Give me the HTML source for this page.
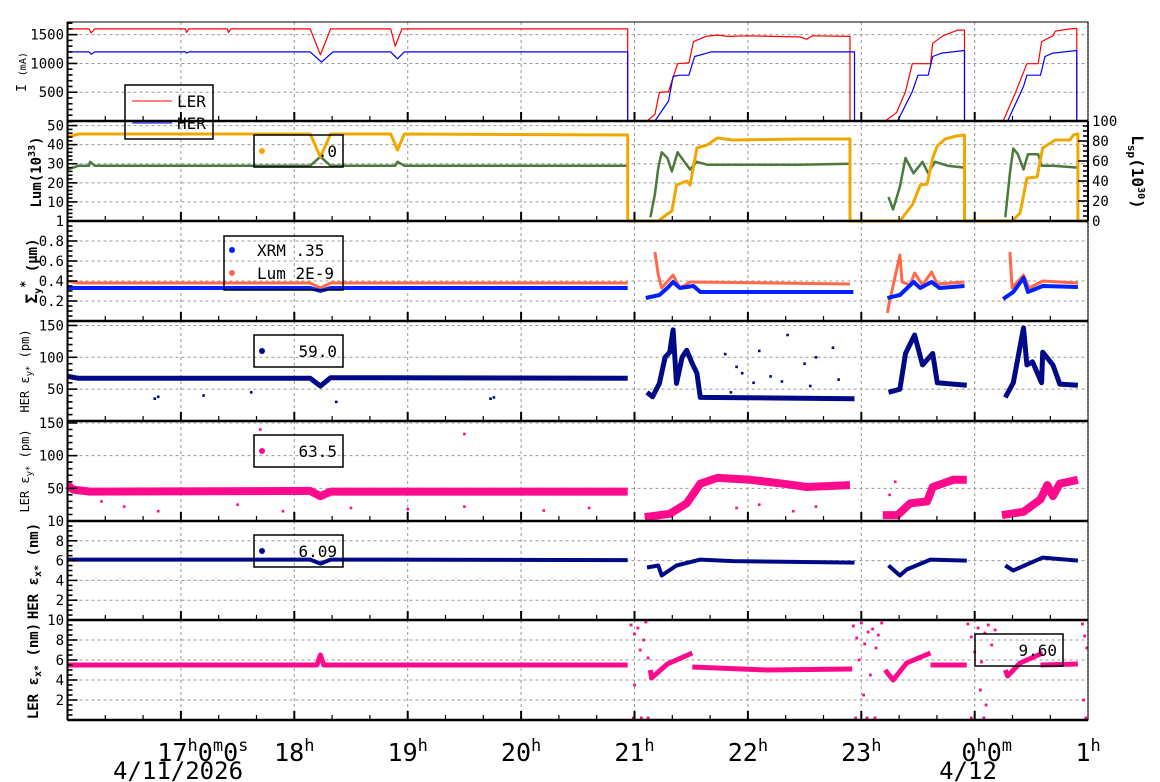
<!DOCTYPE html>
<html><head><meta charset="utf-8"><style>
body{margin:0;background:#fff}
svg{display:block;font-family:"DejaVu Sans Mono","Liberation Mono",monospace}
</style></head><body>
<svg id="chart" width="1160" height="782" viewBox="0 0 1160 782" xmlns="http://www.w3.org/2000/svg">
<rect width="1160" height="782" fill="#fff"/>
<g id="grid"></g><g id="data"></g><g id="axes"></g><g id="legends"></g>
</svg>
<script>
// ---- data (time in hours after 16:00 on 4/11) ----
const hourLabels = ["17","18","19","20","21","22","23","0","1"];
const lerCurrent = [[0,1600],[0.19,1600],[0.21,1530],[0.24,1600],[1.04,1600],[1.05,1540],[1.07,1600],[1.41,1600],[1.42,1540],[1.44,1600],[2.14,1600],[2.23,1150],[2.32,1600],[2.85,1600],[2.89,1300],[2.95,1600],[4.94,1600],[4.94,0],[5.11,0],[5.18,115],[5.22,495],[5.30,510],[5.38,995],[5.48,1010],[5.52,1380],[5.63,1470],[5.73,1495],[5.82,1470],[6.0,1480],[6.46,1460],[6.52,1420],[6.57,1480],[6.90,1470],[6.90,0],[7.21,0],[7.31,145],[7.39,510],[7.45,995],[7.61,995],[7.63,1350],[7.72,1480],[7.85,1580],[7.91,1580],[7.91,0],[8.25,0],[8.36,495],[8.46,995],[8.56,995],[8.59,1380],[8.69,1480],[8.71,1560],[8.84,1600],[8.90,1610],[8.90,0],[9.0,0]];
const herCurrent = [[0,1200],[0.19,1200],[0.21,1160],[0.24,1200],[1.04,1200],[1.05,1180],[1.07,1200],[2.14,1200],[2.24,1024],[2.34,1200],[2.85,1200],[2.91,1080],[2.97,1200],[4.94,1200],[4.94,0],[5.18,0],[5.30,345],[5.34,775],[5.40,795],[5.48,795],[5.53,1120],[5.64,1180],[5.67,1200],[6.94,1200],[6.94,0],[7.32,0],[7.45,510],[7.50,795],[7.59,795],[7.63,1120],[7.71,1180],[7.91,1225],[7.91,0],[8.29,0],[8.43,600],[8.46,795],[8.58,795],[8.62,1120],[8.69,1180],[8.90,1225],[8.90,0],[9.0,0]];
const lspValues = [[0,84],[0.1,87],[2.14,87],[2.23,64],[2.32,87],[2.85,87],[2.91,71],[2.97,87],[4.94,86],[4.94,0],[5.21,0],[5.29,7],[5.33,10],[5.37,36],[5.46,40],[5.49,36],[5.55,73],[5.64,76],[5.73,83],[5.87,81],[6.46,82],[6.90,82],[6.90,0],[7.34,0],[7.45,16],[7.52,36],[7.58,37],[7.63,63],[7.67,75],[7.74,82],[7.84,85],[7.91,86],[7.91,0],[8.33,0],[8.40,8],[8.46,43],[8.55,44],[8.60,73],[8.71,81],[8.84,81],[8.87,86],[8.91,87],[8.91,0],[9.0,0]];
const lumValues = [[0,27],[0.1,29],[0.19,29],[0.2,31],[0.24,29],[2.14,29],[2.23,33.7],[2.32,29],[2.89,29],[2.91,31],[2.97,29],[4.94,29],null,[5.14,2],[5.18,14],[5.21,28],[5.24,36],[5.29,33],[5.33,26],[5.38,36],[5.44,31],[5.49,27],[5.55,31],[5.64,29.5],[6.46,29.5],[6.90,30],null,[7.24,12.6],[7.28,6],[7.34,18],[7.39,33],[7.46,25],[7.54,31],[7.59,25],[7.65,31],[7.76,29],[7.91,28],null,[8.27,2],[8.31,25],[8.34,38],[8.38,35],[8.43,27],[8.47,35],[8.56,35],[8.59,29],[8.69,29],[8.91,28]];
const sigmaXrm = [[0,0.33],[2.14,0.33],[2.23,0.30],[2.32,0.33],[4.94,0.33],null,[5.10,0.23],[5.22,0.26],[5.29,0.33],[5.34,0.39],[5.40,0.33],[5.52,0.35],[5.58,0.29],[6.93,0.29],null,[7.23,0.23],[7.34,0.26],[7.46,0.39],[7.52,0.33],[7.62,0.39],[7.69,0.33],[7.91,0.35],null,[8.25,0.22],[8.34,0.29],[8.43,0.43],[8.47,0.29],[8.60,0.35],[8.91,0.34]];
const sigmaLum = [[0,0.40],[0.1,0.38],[2.14,0.38],[2.23,0.33],[2.32,0.38],[4.94,0.38],null,[5.18,0.69],[5.21,0.46],[5.24,0.33],[5.34,0.46],[5.40,0.33],[5.49,0.39],[6.90,0.37],null,[7.23,0.08],[7.25,0.2],[7.34,0.66],[7.36,0.39],[7.43,0.36],[7.47,0.48],[7.54,0.36],[7.62,0.49],[7.67,0.37],[7.91,0.39],null,[8.31,0.69],[8.33,0.33],[8.43,0.46],[8.48,0.33],[8.60,0.40],[8.91,0.38]];
const herEyValues = [[0,70],[0.1,67],[2.14,67],[2.23,55],[2.32,68],[4.94,67],null,[5.11,45],[5.16,38],[5.22,59],[5.27,100],[5.31,108],[5.34,143],[5.37,59],[5.42,100],[5.46,111],[5.51,90],[5.55,75],[5.58,37],[6.94,35],null,[7.24,45],[7.34,50],[7.39,106],[7.47,135],[7.54,88],[7.63,106],[7.67,60],[7.93,56],null,[8.27,37],[8.34,60],[8.43,146],[8.46,88],[8.51,93],[8.59,60],[8.60,108],[8.69,88],[8.75,58],[8.91,56]];
const herEyOutliers = [[0.77,35],[0.8,38],[1.2,40],[1.62,45],[2.37,30],[3.73,35],[3.76,37],[5.8,105],[5.9,85],[6.1,110],[6.2,70],[6.35,135],[6.5,90],[6.6,100],[6.75,115],[6.05,60],[6.3,62],[5.95,75],[6.55,55],[6.8,65],[5.85,45]];
const lerEyValues = [[0,55],[0.05,48],[0.2,45],[2.14,46],[2.23,38],[2.32,45],[4.94,45],null,[5.09,6],[5.31,11],[5.46,27],[5.58,57],[5.73,66],[6.02,63],[6.31,57],[6.52,52],[6.90,55],null,[7.19,9],[7.32,9],[7.43,27],[7.58,30],[7.63,52],[7.81,63],[7.93,63],null,[8.24,9],[8.43,14],[8.58,33],[8.64,55],[8.69,38],[8.75,57],[8.91,63]];
const lerEyOutliers = [[0.3,30],[0.5,22],[0.8,15],[1.5,25],[1.9,15],[2.5,20],[3.0,18],[3.5,22],[4.2,16],[4.6,20],[1.7,140],[3.5,133],[5.9,20],[6.1,25],[6.4,15],[6.6,22],[7.25,40],[7.3,60]];
const herExValues = [[0,6.1],[2.14,6.1],[2.23,5.7],[2.32,6.1],[4.94,6.05],null,[5.11,5.3],[5.21,5.5],[5.24,4.5],[5.37,5.5],[5.58,6.1],[5.87,5.95],[6.94,5.8],null,[7.24,5.5],[7.34,4.5],[7.40,5.1],[7.61,6.1],[7.93,6.0],null,[8.27,5.5],[8.34,5.0],[8.44,5.5],[8.60,6.3],[8.91,6.0]];
const lerExValues = [[0,5.5],[2.2,5.5],[2.23,6.5],[2.26,5.5],[4.94,5.5],null,[5.14,5.0],[5.15,4.2],[5.29,5.6],[5.51,6.7],null,[5.51,5.3],[6.17,5.0],[6.92,5.1],null,[7.21,5.0],[7.28,4.0],[7.40,5.7],[7.61,6.7],null,[7.61,5.5],[7.93,5.5],null,[8.27,5.0],[8.29,4.4],[8.40,5.7],[8.60,6.7],null,[8.58,5.5],[8.91,5.6]];
const lerExOutliers = [[4.97,9.5],[5.0,8.6],[5.03,9.2],[5.05,7.0],[5.08,8.0],[5.1,9.8],[5.12,6.2],[5.0,3.5],[4.99,0.2],[5.06,0.2],[5.12,0.2],[6.93,9.4],[6.96,8.2],[6.98,6.0],[7.0,9.7],[7.03,7.6],[7.06,8.8],[7.08,4.5],[7.1,9.1],[7.13,7.2],[7.15,8.5],[7.18,9.7],[7.02,2.5],[6.95,0.2],[7.05,0.2],[7.12,0.2],[7.94,9.6],[7.97,8.3],[8.0,6.8],[8.03,9.2],[8.06,5.8],[8.09,8.7],[8.12,9.5],[8.15,7.5],[8.18,9.0],[8.05,3.0],[8.1,1.5],[7.97,0.2],[8.08,0.2],[8.95,9.6],[8.97,8.4],[8.99,7.2],[8.96,2.0],[8.98,0.2]];

// ---- layout ----
const X0=67.5, PXH=113.4, XR=1088;
function xs(t){return X0+t*PXH;}
const panels=[
 {top:22,bot:121,min:0,max:1720,ticks:[500,1000,1500],labels:["500","1000","1500"],minor:100},
 {top:121,bot:221,min:0,max:52.4,ticks:[10,20,30,40,50],labels:["10","20","30","40","50"],minor:2,extraLabel:"1"},
 {top:221,bot:321,min:0,max:1.0,ticks:[0.2,0.4,0.6,0.8],labels:["0.2","0.4","0.6","0.8"],minor:0.05},
 {top:321,bot:421,min:0,max:157,ticks:[50,100,150],labels:["50","100","150"],minor:10},
 {top:421,bot:521,min:0,max:153,ticks:[50,100,150],labels:["50","100","150"],minor:10,extraLabel:"10"},
 {top:521,bot:620,min:0,max:10,ticks:[2,4,6,8],labels:["2","4","6","8"],minor:0.5,extraLabel:"10"},
 {top:620,bot:720,min:0,max:10,ticks:[2,4,6,8],labels:["2","4","6","8"],minor:0.5}
];
function ys(p,v,min,max){const P=panels[p];const a=min===undefined?P.min:min,b=max===undefined?P.max:max;return P.bot-(v-a)/(b-a)*(P.bot-P.top);}
const NS="http://www.w3.org/2000/svg";
function mk(tag,attrs,parent){const e=document.createElementNS(NS,tag);for(const k in attrs)e.setAttribute(k,attrs[k]);parent.appendChild(e);return e;}
const G=document.getElementById('grid'),D=document.getElementById('data'),A=document.getElementById('axes'),L=document.getElementById('legends');

// grid
panels.forEach((P,i)=>{
  for(let h=1;h<=8;h++){const g=mk('line',{x1:xs(h),x2:xs(h),y1:P.top,y2:P.bot,stroke:'#999','stroke-dasharray':'3,3','stroke-width':1},G);
  
  }
  P.ticks.forEach(v=>{const y=ys(i,v);if(y<=P.top+1)return;const g=mk('line',{x1:X0,x2:XR,y1:y,y2:y,stroke:'#999','stroke-dasharray':'3,3','stroke-width':1},G);
  
  });
});

function drawLine(p,data,color,w,name,min,max){
  let segs=[],cur=[];
  data.forEach(d=>{if(d===null){if(cur.length)segs.push(cur);cur=[];}else cur.push(xs(d[0]).toFixed(1)+','+ys(p,d[1],min,max).toFixed(1));});
  if(cur.length)segs.push(cur);
  segs.forEach(s=>{const e=mk('polyline',{points:s.join(' '),fill:'none',stroke:color,'stroke-width':w,'stroke-linejoin':'round'},D);
  
  });
}
function drawDots(p,data,color,r,name){
  data.forEach(d=>{const e=mk('rect',{x:xs(d[0])-r,y:ys(p,d[1])-r,width:2*r,height:2*r,fill:color},D);
  
  });
}
drawLine(0,lerCurrent,'#f00',1.2,'ler-current-line');
drawLine(0,herCurrent,'#00f',1.2,'her-current-line');
drawLine(1,lumValues,'#4a7a3c',2.5,'luminosity-line');
drawLine(1,lspValues,'#f0a800',3,'specific-luminosity-line',0,100);
drawLine(2,sigmaLum,'#ff6a4a',3,'sigma-lum-line');
drawLine(2,sigmaXrm,'#0020ff',4,'sigma-xrm-line');
drawLine(3,herEyValues,'#000a88',5,'her-eps-y-line');
drawDots(3,herEyOutliers,'#000a88',1.3,'her-eps-y-outlier');
drawLine(4,lerEyValues,'#ff0a8c',8,'ler-eps-y-line');
drawDots(4,lerEyOutliers,'#ff0a8c',1.3,'ler-eps-y-outlier');
drawLine(5,herExValues,'#000a88',4,'her-eps-x-line');
drawLine(6,lerExValues,'#ff0a8c',5,'ler-eps-x-line');
drawDots(6,lerExOutliers,'#ff0a8c',1.4,'ler-eps-x-outlier');

// axes
function txt(x,y,s,attrs,parent,name){const e=mk('text',Object.assign({x:x,y:y},attrs),parent||A);e.textContent=s;
 
 return e;}
panels.forEach((P,i)=>{
  const fr=mk('rect',{x:X0,y:P.top,width:XR-X0,height:P.bot-P.top,fill:'none',stroke:'#000','stroke-width':1},A);
  
  
  const bl=mk('line',{x1:X0,x2:XR,y1:P.bot,y2:P.bot,stroke:'#000','stroke-width':2.5},A);
  
  
  const ll=mk('line',{x1:X0,x2:X0,y1:P.top,y2:P.bot,stroke:'#000','stroke-width':2},A);
  
  
  for(let k=1;k<27;k++){const major=k%3===0;const x=xs(k/3);
    const t=mk('line',{x1:x,x2:x,y1:P.bot,y2:P.bot-(major?9:5),stroke:'#000','stroke-width':major?2:1.2},A);
    
    }
  for(let v=P.min+P.minor;v<P.max;v+=P.minor){const y=ys(i,v);
    const major=P.ticks.some(q=>Math.abs(q-v)<1e-6);
    const t=mk('line',{x1:X0,x2:X0+(major?10:5),y1:y,y2:y,stroke:'#000','stroke-width':1.6},A);
    
    }
  P.ticks.forEach((v,j)=>{txt(64,ys(i,v)+5,P.labels[j],{'font-size':14,'text-anchor':'end'});});
  if(P.extraLabel)txt(64,P.bot+5,P.extraLabel,{'font-size':14,'text-anchor':'end'});
});
// right axis Lsp
for(let v=5;v<100;v+=5){const y=ys(1,v,0,100);const major=v%20===0;
  const t=mk('line',{x1:XR,x2:XR-(major?10:5),y1:y,y2:y,stroke:'#000','stroke-width':1.6},A);
  
  }
["0","20","40","60","80","100"].forEach((s,j)=>txt(1092,ys(1,j*20,0,100)+5,s,{'font-size':14},A,'right-tick-label'));
const rl=mk('line',{x1:XR,x2:XR,y1:22,y2:720,stroke:'#000','stroke-width':1.2,'stroke-dasharray':'2,2'},A);


const rl2=mk('line',{x1:XR,x2:XR,y1:121,y2:221,stroke:'#000','stroke-width':2},A);



// x labels
hourLabels.forEach((h,j)=>{
  const x=xs(j+1);
  const e=mk('text',{x:x,y:761,'font-size':25,'text-anchor':'middle'},A);
  
  
  let parts;
  if(j===0)parts=[[h,0],["h",1],["0",0],["m",1],["0",0],["s",1]];
  else if(j===7)parts=[[h,0],["h",1],["0",0],["m",1]];
  else parts=[[h,0],["h",1]];
  parts.forEach(p=>{const ts=mk('tspan',{},e);ts.textContent=p[0];
    if(p[1]){ts.setAttribute('font-size',17);ts.setAttribute('dy',-10);}else if(e.childNodes.length>1){ts.setAttribute('dy',10);}});
  if(j===0)e.setAttribute('x',x+22);
  if(j===7)e.setAttribute('x',x+12);
});
txt(178,779,"4/11/2026",{'font-size':24,'text-anchor':'middle'},A,'date-label-start');
txt(968,779,"4/12",{'font-size':24,'text-anchor':'middle'},A,'date-label-next');

// y titles
function ytitle(x,y,parts,bold,size,name,rot){
  const e=mk('text',{x:0,y:0,transform:`translate(${x},${y}) rotate(${rot||-90})`,'text-anchor':'middle','font-size':size,'font-weight':bold?'bold':'normal'},A);
  
  
  parts.forEach(p=>{const ts=mk('tspan',{},e);ts.textContent=p[0];if(p[1])ts.setAttribute('font-size',p[1]);if(p[2])ts.setAttribute('dy',p[2]);});
}
ytitle(26,72,[["I "],["(mA)",10]],false,13,'current-axis-title');
ytitle(41,172,[["Lum(10"],["33",10,-6],[")",null,6]],true,14,'lum-axis-title');
ytitle(37,271,[["Σ",16],["y",10,4],["*",12,-12],[" (μm)",null,8]],true,14,'sigma-axis-title');
ytitle(29,371,[["HER ε"],["y*",9,3],[" (pm)",null,-3]],false,12,'her-eps-y-axis-title');
ytitle(29,471,[["LER ε"],["y*",9,3],[" (pm)",null,-3]],false,12,'ler-eps-y-axis-title');
ytitle(38,571,[["HER ε"],["x*",10,3],[" (nm)",null,-3]],true,14,'her-eps-x-axis-title');
ytitle(38,671,[["LER ε"],["x*",10,3],[" (nm)",null,-3]],true,14,'ler-eps-x-axis-title');
ytitle(1132,172,[["L"],["sp",11,4],["(10",null,-4],["30",10,-6],[")",null,6]],true,16,'lsp-axis-title',90);

// legends
function box(x,y,w,h,name){const r=mk('rect',{x:x,y:y,width:w,height:h,fill:'none',stroke:'#000','stroke-width':1.5},L);
 
 }
function dot(x,y,c){const e=mk('circle',{cx:x,cy:y,r:3,fill:c},L);
 
 }
box(125,85,88,54,'current-legend');
const l1=mk('line',{x1:132,x2:172,y1:101,y2:101,stroke:'#f00','stroke-width':1},L);
const l2=mk('line',{x1:132,x2:172,y1:123,y2:123,stroke:'#00f','stroke-width':1},L);
txt(177,107,"LER",{'font-size':16},L,'legend-ler-entry');
txt(177,129,"HER",{'font-size':16},L,'legend-her-entry');
box(254,135,89,32,'lum-legend');dot(262,151,'#f0a800');txt(337,157,".0",{'font-size':16,'text-anchor':'end'},L,'lum-legend-value');
box(224,236,119,54,'sigma-legend');dot(232,250,'#0020ff');dot(232,273,'#ff6a4a');
txt(257,256,"XRM  .35",{'font-size':16,'xml:space':'preserve'},L,'legend-xrm-entry');
txt(257,279,"Lum 2E-9",{'font-size':16},L,'legend-lum-entry');
box(254,335,89,32,'her-eps-y-legend');dot(262,351,'#000a88');txt(337,357,"59.0",{'font-size':16,'text-anchor':'end'},L,'her-eps-y-legend-value');
box(254,435,89,32,'ler-eps-y-legend');dot(262,451,'#ff0a8c');txt(337,457,"63.5",{'font-size':16,'text-anchor':'end'},L,'ler-eps-y-legend-value');
box(254,535,89,32,'her-eps-x-legend');dot(262,551,'#000a88');txt(337,557,"6.09",{'font-size':16,'text-anchor':'end'},L,'her-eps-x-legend-value');
box(975,634,88,32,'ler-eps-x-legend');txt(1057,656,"9.60",{'font-size':16,'text-anchor':'end'},L,'ler-eps-x-legend-value');
</script>
</body></html>
